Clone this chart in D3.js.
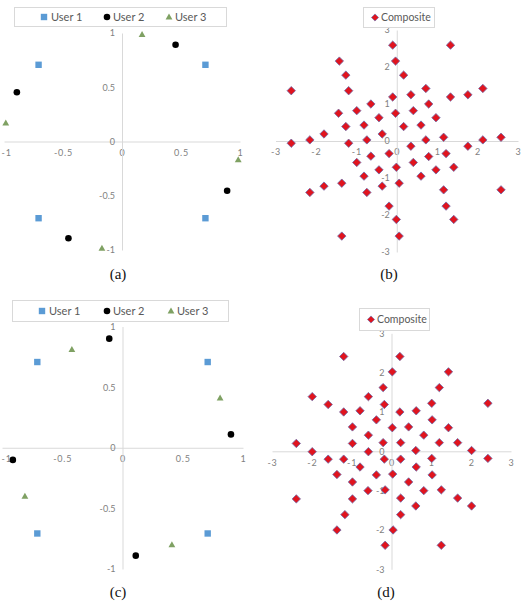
<!DOCTYPE html>
<html><head><meta charset="utf-8">
<script src="https://cdn.jsdelivr.net/npm/d3@7"></script>
<style>body{margin:0;background:#fff}svg{display:block}</style>
</head><body>
<svg id="chart" width="525" height="609"></svg>
<script>
// ---------- data ----------
const userNames = ["User 1", "User 2", "User 3"];
const compositeName = "Composite";
const captions = ["(a)", "(b)", "(c)", "(d)"];
const unitTicks = [-1, -0.5, 0, 0.5, 1];
const unitTickLabels = ["-1", "-0.5", "0", "0.5", "1"];
const wideTicks = [-3, -2, -1, 0, 1, 2, 3];
const wideTickLabels = ["-3", "-2", "-1", "0", "1", "2", "3"];

const aUser1 = [[-0.707, 0.707], [0.707, 0.707], [-0.707, -0.707], [0.707, -0.707]];
const aUser2 = [[0.454, 0.891], [-0.891, 0.454], [-0.454, -0.891], [0.891, -0.454]];
const aUser3 = [[0.17, 0.985], [-0.985, 0.17], [-0.17, -0.985], [0.985, -0.17]];

const bComposite = [
  [-2.61, 1.36], [-1.42, 2.16], [-1.26, 1.78], [-1.19, 1.36], [-0.10, 2.59], [-0.03, 2.16],
  [0.17, 1.78], [1.33, 2.59], [-0.10, 1.19], [0.35, 1.25], [0.72, 1.42], [1.33, 1.19],
  [1.76, 1.25], [2.13, 1.42], [-1.44, 0.75], [-0.99, 0.82], [-0.64, 1.00], [-0.03, 0.75],
  [0.41, 0.82], [0.79, 1.00], [-1.26, 0.39], [-0.81, 0.43], [-0.44, 0.63], [0.17, 0.39],
  [0.60, 0.43], [0.97, 0.63], [-1.80, 0.19], [-2.15, 0.03], [-2.61, -0.06], [-1.19, -0.06],
  [-0.74, 0.03], [-0.36, 0.19], [0.35, -0.14], [0.72, 0.03], [1.16, 0.10], [1.76, -0.14],
  [2.13, 0.03], [2.58, 0.10], [-0.99, -0.58], [-0.64, -0.41], [-0.19, -0.34], [-0.01, -0.71],
  [0.41, -0.58], [0.79, -0.42], [1.22, -0.34], [1.41, -0.71], [-0.81, -0.95], [-0.44, -0.78],
  [0.97, -0.78], [0.60, -0.95], [-1.36, -1.14], [-1.80, -1.22], [-2.15, -1.39], [-0.74, -1.39],
  [-0.36, -1.22], [0.06, -1.14], [1.16, -1.32], [2.58, -1.32], [-0.19, -1.76], [1.22, -1.76],
  [-0.01, -2.12], [1.41, -2.12], [-1.36, -2.57], [0.06, -2.57]
];

const cUser1 = [[-0.707, 0.707], [0.707, 0.707], [-0.707, -0.707], [0.707, -0.707]];
const cUser2 = [[-0.11, 0.90], [0.90, 0.11], [-0.91, -0.10], [0.11, -0.89]];
const cUser3 = [[-0.42, 0.81], [0.81, 0.41], [-0.81, -0.40], [0.41, -0.80]];

const dComposite = [
  [-1.20, 2.41], [0.21, 2.41], [0.02, 2.02], [1.43, 2.02], [-0.21, 1.62], [1.20, 1.62],
  [-1.99, 1.39], [-0.58, 1.39], [-1.59, 1.19], [-0.18, 1.19], [1.01, 1.22], [2.42, 1.22],
  [-1.20, 1.00], [-0.79, 1.03], [0.21, 1.00], [0.62, 1.03], [-0.38, 0.80], [1.02, 0.80],
  [-0.98, 0.62], [0.02, 0.60], [0.43, 0.62], [1.43, 0.60], [-0.58, 0.41], [0.81, 0.41],
  [-2.39, 0.20], [-0.98, 0.20], [-0.21, 0.22], [0.23, 0.22], [1.20, 0.22], [1.66, 0.22],
  [-1.99, -0.01], [-0.58, -0.01], [0.61, 0.02], [2.01, 0.02], [-1.59, -0.20], [-1.20, -0.20],
  [-0.18, -0.20], [0.23, -0.20], [1.01, -0.18], [2.42, -0.18], [-0.79, -0.40], [0.62, -0.40],
  [-1.37, -0.59], [-0.38, -0.60], [0.03, -0.58], [1.02, -0.60], [-0.98, -0.78], [0.43, -0.78],
  [-0.59, -1.00], [-0.16, -0.98], [0.81, -1.00], [1.25, -0.98], [-2.39, -1.21], [-0.98, -1.21],
  [0.23, -1.19], [1.66, -1.19], [0.61, -1.39], [2.01, -1.39], [-1.17, -1.61], [0.23, -1.61],
  [-1.37, -2.00], [0.04, -2.00], [-0.16, -2.39], [1.25, -2.39]
];

// ---------- styles ----------
const sans = "Lato, 'Open Sans', sans-serif";
const axisColor = "#d9d9d9";
const tickColor = "#7f7f7f";
const legendTextColor = "#595959";
const userStyles = [
  { shape: "square", fill: "#5b9bd5" },
  { shape: "circle", fill: "#000000" },
  { shape: "triangle", fill: "#7fa163" }
];
const diamondStyle = { shape: "diamond", fill: "#e0141e", stroke: "#6e6aa8" };

function markerPath(shape) {
  if (shape === "square") return "M-3.2,-3.2H3.2V3.2H-3.2Z";
  if (shape === "circle") return d3.symbol(d3.symbolCircle, 34)();
  if (shape === "triangle") return "M0,-3.6L3.4,2.4H-3.4Z";
  if (shape === "diamond") return "M0,-4.2L4.2,0L0,4.2L-4.2,0Z";
}

const svg = d3.select("#chart");
svg.append("rect").attr("width", 525).attr("height", 609).attr("fill", "#fff");

const panels = [
  { xr: [4, 240], yr: [250, 33], dom: 1, ticks: unitTicks, labels: unitTickLabels,
    series: [aUser1, aUser2, aUser3], caption: captions[0], cap: [118, 279],
    legend: { box: [14, 7, 212, 19], items: [[44, 51], [107, 113], [169, 175]] } },
  { xr: [275.5, 518], yr: [252, 30], dom: 3, ticks: wideTicks, labels: wideTickLabels,
    composite: bComposite, caption: captions[1], cap: [389, 279],
    legend: { box: [363, 7, 71, 20], items: [[375, 381]] } },
  { xr: [2, 243], yr: [569, 326.5], dom: 1, ticks: unitTicks, labels: unitTickLabels,
    series: [cUser1, cUser2, cUser3], caption: captions[2], cap: [118, 597],
    legend: { box: [12, 300, 216, 21], items: [[42, 49], [107, 113], [171, 177]] } },
  { xr: [272, 511], yr: [569.3, 333.3], dom: 3, ticks: wideTicks, labels: wideTickLabels,
    composite: dComposite, caption: captions[3], cap: [386, 597],
    legend: { box: [359, 308, 70, 22], items: [[371, 377]] } }
];

panels.forEach(p => {
  const g = svg.append("g");
  const x = d3.scaleLinear().domain([-p.dom, p.dom]).range(p.xr);
  const y = d3.scaleLinear().domain([-p.dom, p.dom]).range(p.yr);
  const fmt = d => p.labels[p.ticks.indexOf(d)];

  const xa = g.append("g").attr("transform", `translate(0,${y(0)})`)
    .call(d3.axisBottom(x).tickValues(p.ticks).tickFormat(fmt).tickSize(0).tickSizeOuter(0).tickPadding(8));
  const ya = g.append("g").attr("transform", `translate(${x(0)},0)`)
    .call(d3.axisLeft(y).tickValues(p.ticks).tickFormat(fmt).tickSize(0).tickSizeOuter(0).tickPadding(7));
  [xa, ya].forEach(a => {
    a.select(".domain").attr("stroke", axisColor).attr("stroke-width", 1);
    a.selectAll("text").attr("fill", tickColor).style("font-family", sans).style("font-size", "9px");
  });
  xa.selectAll("text").style("letter-spacing", "0.8px");
  // keep the leftmost label inside the picture
  xa.selectAll(".tick").each(function (d) {
    if (x(d) < 8) d3.select(this).select("text").attr("text-anchor", "start").attr("x", 1 - x(d));
  });

  // marks
  if (p.series) {
    p.series.forEach((s, i) => {
      g.append("g").selectAll("path").data(s).join("path")
        .attr("d", markerPath(userStyles[i].shape))
        .attr("transform", d => `translate(${x(d[0])},${y(d[1])})`)
        .attr("fill", userStyles[i].fill);
    });
  } else {
    g.append("g").selectAll("path").data(p.composite).join("path")
      .attr("d", markerPath(diamondStyle.shape))
      .attr("transform", d => `translate(${x(d[0])},${y(d[1])})`)
      .attr("fill", diamondStyle.fill).attr("stroke", diamondStyle.stroke).attr("stroke-width", 0.8);
  }

  // legend
  const L = p.legend;
  const lg = g.append("g");
  lg.append("rect").attr("x", L.box[0] + 0.5).attr("y", L.box[1] + 0.5)
    .attr("width", L.box[2]).attr("height", L.box[3])
    .attr("fill", "#fff").attr("stroke", axisColor);
  const cy = L.box[1] + L.box[3] / 2 + 0.5;
  if (p.series) {
    L.items.forEach((it, i) => {
      lg.append("path").attr("d", markerPath(userStyles[i].shape))
        .attr("transform", `translate(${it[0]},${cy})`).attr("fill", userStyles[i].fill);
      lg.append("text").attr("x", it[1]).attr("y", cy).attr("dy", "0.35em")
        .attr("fill", legendTextColor).style("font-family", sans).style("font-size", "11px")
        .text(userNames[i]);
    });
  } else {
    const it = L.items[0];
    lg.append("path").attr("d", markerPath("diamond"))
      .attr("transform", `translate(${it[0]},${cy}) scale(0.85)`)
      .attr("fill", diamondStyle.fill).attr("stroke", diamondStyle.stroke).attr("stroke-width", 0.8);
    lg.append("text").attr("x", it[1]).attr("y", cy).attr("dy", "0.35em")
      .attr("fill", legendTextColor).style("font-family", sans).style("font-size", "10.5px")
      .text(compositeName);
  }

  // caption
  g.append("text").attr("x", p.cap[0]).attr("y", p.cap[1]).attr("text-anchor", "middle")
    .style("font-family", "'Liberation Serif', 'DejaVu Serif', serif").style("font-size", "15px")
    .attr("fill", "#111").text(p.caption);
});
</script>
</body></html>
